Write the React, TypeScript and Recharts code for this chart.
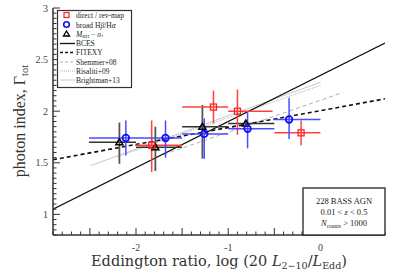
import { ComposedChart, Line, Scatter, XAxis, YAxis, ErrorBar } from 'recharts'

// point, x-range, y-range per bin
const redX = [-1.83, -1.16, -0.9, -0.21]
const redY = [1.67, 2.04, 2.0, 1.79]
const redXLo = [-2.01, -1.5, -1.0, -0.5]
const redXHi = [-1.5, -1.0, -0.52, 0.0]
const redYLo = [1.41, 1.88, 1.77, 1.67]
const redYHi = [1.91, 2.2, 2.21, 1.91]

const blueX = [-2.11, -1.68, -1.26, -0.79, -0.34]
const blueY = [1.74, 1.74, 1.78, 1.83, 1.92]
const blueXLo = [-2.51, -2.0, -1.5, -1.0, -0.51]
const blueXHi = [-2.0, -1.5, -1.0, -0.5, 0.0]
const blueYLo = [1.57, 1.55, 1.54, 1.64, 1.73]
const blueYHi = [1.91, 1.91, 1.93, 1.99, 2.13]

const blackX = [-2.18, -1.79, -1.28, -0.81]
const blackY = [1.7, 1.65, 1.85, 1.88]
const blackXLo = [-2.51, -2.0, -1.5, -1.0]
const blackXHi = [-2.0, -1.5, -1.0, -0.5]
const blackYLo = [1.49, 1.42, 1.54, 1.85]
const blackYHi = [1.89, 1.85, 2.06, 1.91]

// relation lines, end points
const bces = [{ x: -2.9, y: 1.05 }, { x: 0.7, y: 2.66 }]
const fitexy = [{ x: -2.9, y: 1.53 }, { x: 0.7, y: 2.12 }]
const shemmer = [{ x: -1.7, y: 1.58 }, { x: 0.24, y: 2.18 }]
const risaliti = [{ x: -2.2, y: 1.56 }, { x: 0.0, y: 2.25 }]
const brightman = [{ x: -2.5, y: 1.47 }, { x: 0.0, y: 2.28 }]

const xLabels = [-2, -1, 0]
const yLabels = [1, 1.5, 2, 2.5, 3]

const FONT = "'Liberation Serif', 'DejaVu Serif', serif"
const AX = '#333'

function pts(x: number[], y: number[], xl: number[], xh: number[], yl: number[], yh: number[]) {
  return x.map((v, i) => ({
    x: v,
    y: y[i],
    ex: [v - xl[i], xh[i] - v],
    ey: [y[i] - yl[i], yh[i] - y[i]],
  }))
}

const red = pts(redX, redY, redXLo, redXHi, redYLo, redYHi)
const blue = pts(blueX, blueY, blueXLo, blueXHi, blueYLo, blueYHi)
const black = pts(blackX, blackY, blackXLo, blackXHi, blackYLo, blackYHi)

const xTicks: number[] = []
for (let i = -29; i <= 7; i++) xTicks.push(Math.round(i) / 10)
const yTicks: number[] = []
for (let i = 16; i <= 60; i++) yTicks.push(Math.round(i * 5) / 100)

const isMajor = (v: number) => Math.abs(v * 2 - Math.round(v * 2)) < 1e-6

const BottomTick = ({ x, y, payload }: any) => {
  const v = payload.value
  return (
    <g>
      <line x1={x} x2={x} y1={y} y2={y - (isMajor(v) ? 7 : 3.5)} stroke={AX} />
      {xLabels.some((l) => Math.abs(l - v) < 1e-6) && (
        <text x={x} y={y + 16} textAnchor="middle" fontSize={10} fontFamily={FONT} fill="#444">
          {v}
        </text>
      )}
    </g>
  )
}
const TopTick = ({ x, y, payload }: any) => (
  <line x1={x} x2={x} y1={y} y2={y + (isMajor(payload.value) ? 7 : 3.5)} stroke={AX} />
)
const LeftTick = ({ x, y, payload }: any) => {
  const v = payload.value
  return (
    <g>
      <line x1={x} x2={x + (isMajor(v) ? 7 : 3.5)} y1={y} y2={y} stroke={AX} />
      {yLabels.some((l) => Math.abs(l - v) < 1e-6) && (
        <text x={x - 5} y={y + 3.5} textAnchor="end" fontSize={10} fontFamily={FONT} fill="#444">
          {v}
        </text>
      )}
    </g>
  )
}
const RightTick = ({ x, y, payload }: any) => (
  <line x1={x} x2={x - (isMajor(payload.value) ? 7 : 3.5)} y1={y} y2={y} stroke={AX} />
)

const Square = ({ cx, cy }: any) => (
  <rect x={cx - 3} y={cy - 3} width={6} height={6} fill="none" stroke="#ff2020" strokeWidth={1.3} />
)
const Circle = ({ cx, cy }: any) => <circle cx={cx} cy={cy} r={3.3} fill="none" stroke="#1010ff" strokeWidth={1.8} />
const Tri = ({ cx, cy }: any) => (
  <polygon points={`${cx},${cy - 3.5} ${cx - 3.5},${cy + 2.5} ${cx + 3.5},${cy + 2.5}`} fill="none" stroke="#000" strokeWidth={1.5} />
)

export default function App() {
  return (
    <div style={{ position: 'absolute', left: 0, top: 0, width: 395, height: 279, background: '#fff' }}>
      <ComposedChart width={395} height={279} margin={{ top: 8, right: 10, left: 0, bottom: 0 }}>
        <XAxis
          dataKey="x"
          type="number"
          domain={[-2.9, 0.7]}
          allowDataOverflow
          ticks={xTicks}
          interval={0}
          tick={<BottomTick />}
          tickSize={0}
          tickMargin={0}
          height={44}
          axisLine={{ stroke: AX, strokeWidth: 1.5 }}
        />
        <XAxis
          xAxisId="top"
          orientation="top"
          type="number"
          domain={[-2.9, 0.7]}
          allowDataOverflow
          ticks={xTicks}
          interval={0}
          tick={<TopTick />}
          tickSize={0}
          tickMargin={0}
          height={0}
          axisLine={{ stroke: AX, strokeWidth: 1.5 }}
        />
        <YAxis
          type="number"
          domain={[0.8, 3]}
          allowDataOverflow
          ticks={yTicks}
          interval={0}
          tick={<LeftTick />}
          tickSize={0}
          tickMargin={0}
          width={53}
          axisLine={{ stroke: AX, strokeWidth: 1.5 }}
        />
        <YAxis
          yAxisId="right"
          orientation="right"
          type="number"
          domain={[0.8, 3]}
          allowDataOverflow
          ticks={yTicks}
          interval={0}
          tick={<RightTick />}
          tickSize={0}
          tickMargin={0}
          width={0}
          axisLine={{ stroke: AX, strokeWidth: 1.5 }}
        />
        <Line data={brightman} dataKey="y" dot={false} stroke="#c8c8c8" strokeWidth={1} isAnimationActive={false} />
        <Line data={risaliti} dataKey="y" dot={false} stroke="#b0b0b0" strokeWidth={1} strokeDasharray="1 1" isAnimationActive={false} />
        <Line data={shemmer} dataKey="y" dot={false} stroke="#b0b0b0" strokeWidth={1} strokeDasharray="4 3" isAnimationActive={false} />
        <Line data={bces} dataKey="y" dot={false} stroke="#111" strokeWidth={1.3} isAnimationActive={false} />
        <Line data={fitexy} dataKey="y" dot={false} stroke="#111" strokeWidth={1.6} strokeDasharray="4 3" isAnimationActive={false} />
        <Scatter data={black} dataKey="y" shape={<Tri />} isAnimationActive={false}>
          <ErrorBar dataKey="ex" direction="x" width={0} stroke="#333" strokeWidth={1.5} />
          <ErrorBar dataKey="ey" direction="y" width={0} stroke="#555" strokeWidth={1.8} />
        </Scatter>
        <Scatter data={red} dataKey="y" shape={<Square />} isAnimationActive={false}>
          <ErrorBar dataKey="ex" direction="x" width={0} stroke="#ff4040" strokeWidth={1.5} />
          <ErrorBar dataKey="ey" direction="y" width={0} stroke="#ff4040" strokeWidth={1.5} />
        </Scatter>
        <Scatter data={blue} dataKey="y" shape={<Circle />} isAnimationActive={false}>
          <ErrorBar dataKey="ex" direction="x" width={0} stroke="#4a4aff" strokeWidth={1.5} />
          <ErrorBar dataKey="ey" direction="y" width={0} stroke="#4a4aff" strokeWidth={1.5} />
        </Scatter>
      </ComposedChart>
      <svg width={395} height={279} style={{ position: 'absolute', left: 0, top: 0, pointerEvents: 'none' }} fontFamily={FONT}>
        {/* legend */}
        <rect x={57.5} y={10.5} width={74} height={77} fill="#fff" stroke="#333" strokeWidth={1.2} />
        <g fontSize={7.5} fill="#222">
          <rect x={64} y={12.5} width={5} height={5} fill="none" stroke="#ff2020" strokeWidth={1.2} />
          <text x={76} y={18}>direct / rev-map</text>
          <circle cx={66.5} cy={24.5} r={2.8} fill="none" stroke="#1010ff" strokeWidth={1.6} />
          <text x={76} y={27.5}>broad H<tspan fontStyle="italic">β</tspan>/H<tspan fontStyle="italic">α</tspan></text>
          <polygon points="66.5,31 63.5,36 69.5,36" fill="none" stroke="#000" strokeWidth={1.4} />
          <text x={76} y={36.5}>
            <tspan fontStyle="italic">M</tspan>
            <tspan fontSize={5} dy={1.5}>BH</tspan>
            <tspan dy={-1.5}> − </tspan>
            <tspan fontStyle="italic">σ</tspan>
            <tspan fontSize={5} dy={1.5}>*</tspan>
          </text>
          <line x1={60} x2={75} y1={43.5} y2={43.5} stroke="#111" strokeWidth={1.3} />
          <text x={76} y={46}>BCES</text>
          <line x1={60} x2={75} y1={52.5} y2={52.5} stroke="#111" strokeWidth={1.6} strokeDasharray="3 2" />
          <text x={76} y={55}>FITEXY</text>
          <line x1={60} x2={75} y1={62} y2={62} stroke="#b0b0b0" strokeWidth={1} strokeDasharray="3 2" />
          <text x={76} y={64.5}>Shemmer+08</text>
          <line x1={60} x2={75} y1={71} y2={71} stroke="#b0b0b0" strokeWidth={1} strokeDasharray="1 1" />
          <text x={76} y={73.5}>Risaliti+09</text>
          <line x1={60} x2={75} y1={80} y2={80} stroke="#c8c8c8" strokeWidth={1} />
          <text x={76} y={82.5}>Brightman+13</text>
        </g>
        {/* sample box */}
        <rect x={303} y={188} width={82} height={47} fill="#fff" stroke="#222" strokeWidth={1.3} />
        <g fontSize={8.5} fill="#222" textAnchor="middle">
          <text x={344} y={204}>228 BASS AGN</text>
          <text x={344} y={215}>
            0.01 &lt; <tspan fontStyle="italic">z</tspan> &lt; 0.5
          </text>
          <text x={344} y={226}>
            <tspan fontStyle="italic">N</tspan>
            <tspan fontSize={5.5} dy={1.5}>counts</tspan>
            <tspan dy={-1.5}> &gt; 1000</tspan>
          </text>
        </g>
        {/* axis titles */}
        <text x={219} y={266} textAnchor="middle" fontSize={14.5} fill="#333" fontFamily="'DejaVu Serif', serif">
          Eddington ratio, log (20 <tspan fontStyle="italic">L</tspan>
          <tspan fontSize={9.5} dy={3}>2−10</tspan>
          <tspan dy={-3}>/</tspan>
          <tspan fontStyle="italic">L</tspan>
          <tspan fontSize={9.5} dy={3}>Edd</tspan>
          <tspan dy={-3}>)</tspan>
        </text>
        <text x={25} y={121} textAnchor="middle" fontSize={16} fill="#333" transform="rotate(-90 25 121)">
          photon index, Γ<tspan fontSize={10.5} dy={3}>tot</tspan>
        </text>
      </svg>
    </div>
  )
}
